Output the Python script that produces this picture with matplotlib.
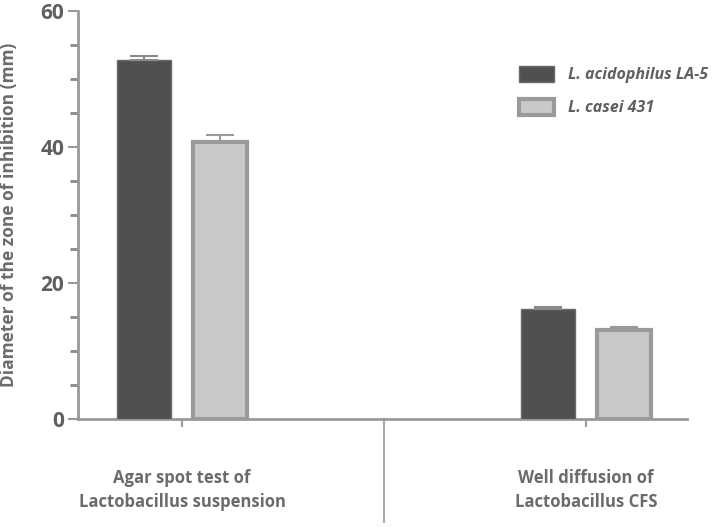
import matplotlib.pyplot as plt
from matplotlib.patches import Patch
import numpy as np

plt.rcParams['font.family'] = ['Open Sans', 'DejaVu Sans']
plt.rcParams['ytick.minor.visible'] = True
plt.rcParams['ytick.minor.size'] = 5
plt.rcParams['ytick.minor.width'] = 1.8

# Data
categories = ["Agar spot test of\nLactobacillus suspension",
              "Well diffusion of\nLactobacillus CFS"]
acidophilus = [52.8, 16.2]
acidophilus_err = [0.6, 0.3]
casei = [40.7, 13.1]
casei_err = [1.0, 0.4]
series_names = ["L. acidophilus LA-5", "L. casei 431"]
y_major = [0, 20, 40, 60]
y_minor = [5, 10, 15, 25, 30, 35, 45, 50, 55]

x = np.arange(len(categories))
w = 0.134
off = 0.094

fig = plt.figure(figsize=(7.2, 5.27), dpi=100)
ax = fig.add_axes([0.1083, 0.2049, 0.9542 - 0.1083, 0.979 - 0.2049])

# only the upper whisker is shown
ax.bar(x - off, acidophilus, w, color='#505050', edgecolor='#6a6a6a', linewidth=1,
       yerr=[[0] * len(x), acidophilus_err],
       error_kw=dict(ecolor='#8a8a8a', capsize=10, elinewidth=1.5, capthick=1.5),
       zorder=3)
ax.bar(x + off, casei, w, color='#c9c9c9', edgecolor='#9a9a9a', linewidth=3,
       yerr=[[0] * len(x), casei_err],
       error_kw=dict(ecolor='#9a9a9a', capsize=10, elinewidth=1.5, capthick=1.5),
       zorder=3)

ax.set_xlim(-0.258, 1.25)
ax.set_ylim(0, 60)
ax.set_yticks(y_major)
ax.set_yticks(y_minor, minor=True)
ax.set_xticks(x)
ax.set_xticklabels(categories, fontsize=12, fontweight='bold', color='#6b6b6b',
                   linespacing=1.4)
ax.tick_params(axis='x', which='both', length=6, width=1.5, color='#999999', pad=30)
ax.tick_params(axis='x', which='minor', bottom=False)
ax.tick_params(axis='y', which='major', length=7, width=1.5, color='#999999',
               labelsize=15, labelcolor='#5f5f5f', pad=3)
for t in ax.yaxis.get_minor_ticks():
    t.tick1line.set_visible(True)
    t.tick1line.set_markersize(6)
    t.tick1line.set_markeredgewidth(2)
    t.tick1line.set_markeredgecolor('#888888')
for lab in ax.get_yticklabels():
    lab.set_fontweight('bold')

for s in ['top', 'right']:
    ax.spines[s].set_visible(False)
for s in ['left', 'bottom']:
    ax.spines[s].set_color('#999999')
    ax.spines[s].set_linewidth(2)

# separator between the two groups
ax.plot([0.5, 0.5], [0, -15.1], color='#aaaaaa', lw=1.5, clip_on=False)

ax.set_ylabel("Diameter of the zone of inhibition (mm)", fontsize=12.5, fontweight='bold',
              color='#6b6b6b')
ax.yaxis.set_label_coords(-0.098, 0.5)

handles = [Patch(facecolor='#505050', edgecolor='#6a6a6a', linewidth=1),
           Patch(facecolor='#c9c9c9', edgecolor='#9a9a9a', linewidth=3)]
leg = ax.legend(handles, series_names, loc='upper left', bbox_to_anchor=(0.7, 0.9),
                frameon=False, handlelength=2.2, handleheight=1.1, labelspacing=1.0,
                handletextpad=0.9,
                prop=dict(size=11.5, weight='bold', style='italic'))
for t in leg.get_texts():
    t.set_color('#5f5f5f')

fig.savefig('out.png', dpi=100)
